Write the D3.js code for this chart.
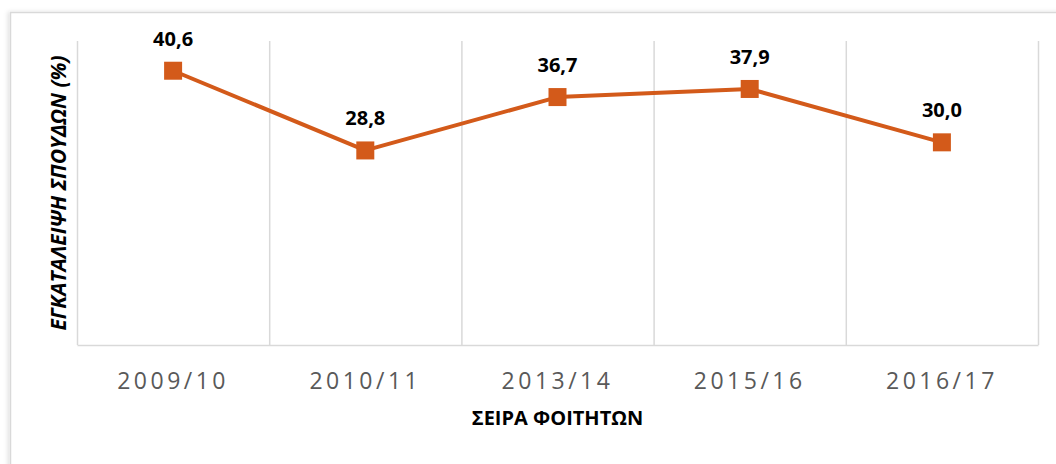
<!DOCTYPE html>
<html>
<head>
<meta charset="utf-8">
<script src="https://cdn.jsdelivr.net/npm/d3@7"></script>
<style>
  body { margin: 0; background: #fff; }
  svg { display: block; }
</style>
</head>
<body>
<svg id="chart"></svg>
<script>
const periods = ["2009/10", "2010/11", "2013/14", "2015/16", "2016/17"];
const dropout = [40.6, 28.8, 36.7, 37.9, 30.0];
const yTitle = "ΕΓΚΑΤΑΛΕΙΨΗ ΣΠΟΥΔΩΝ (%)";
const xTitle = "ΣΕΙΡΑ ΦΟΙΤΗΤΩΝ";

const W = 1056, H = 464;
const margin = { top: 41, right: 18, bottom: 119, left: 77 };
const width = W - margin.left - margin.right;
const height = H - margin.top - margin.bottom;
const orange = "#D35A1A";

const root = d3.select("#chart").attr("width", W).attr("height", H);

// chart frame with soft shadow
const defs = root.append("defs");
const f = defs.append("filter").attr("id", "sh").attr("x", "-5%").attr("y", "-5%").attr("width", "110%").attr("height", "110%");
f.append("feDropShadow").attr("dx", -2).attr("dy", 0).attr("stdDeviation", 2).attr("flood-color", "#000").attr("flood-opacity", 0.12);
root.append("rect")
    .attr("x", 10.5).attr("y", 12.5)
    .attr("width", W + 20).attr("height", H + 20)
    .attr("fill", "#fff").attr("stroke", "#d9d9d9").attr("stroke-width", 1.5)
    .attr("filter", "url(#sh)");

const svg = root.append("g").attr("transform", `translate(${margin.left},${margin.top})`);

const x = d3.scaleBand().domain(periods).range([0, width]);
const y = d3.scaleLinear().domain([0, 45]).range([height, 0]);

// vertical gridlines at category boundaries
const bounds = periods.map(p => x(p)).concat([width]);
svg.selectAll(".grid")
    .data(bounds)
    .enter()
    .append("line")
    .attr("x1", d => d + 0.5).attr("x2", d => d + 0.5)
    .attr("y1", 0).attr("y2", height)
    .attr("stroke", "#d9d9d9").attr("stroke-width", 1.5);

// x axis
const xAxis = svg.append("g")
    .attr("transform", `translate(0,${height})`)
    .call(d3.axisBottom(x).tickSize(0).tickPadding(28));
xAxis.select(".domain").attr("stroke", "#d9d9d9").attr("stroke-width", 1.5);
xAxis.selectAll("text")
    .attr("fill", "#595959")
    .style("font-family", "'Open Sans', sans-serif")
    .style("font-size", "23px")
    .style("letter-spacing", "3.5px");

const data = periods.map((p, i) => ({ p, v: dropout[i] }));

const line = d3.line()
    .x(d => x(d.p) + x.bandwidth() / 2)
    .y(d => y(d.v));

svg.append("path")
    .datum(data)
    .attr("fill", "none")
    .attr("stroke", orange)
    .attr("stroke-width", 4)
    .attr("stroke-linejoin", "round")
    .attr("d", line);

svg.selectAll(".pt")
    .data(data)
    .enter()
    .append("rect")
    .attr("x", d => x(d.p) + x.bandwidth() / 2 - 9)
    .attr("y", d => y(d.v) - 9)
    .attr("width", 18).attr("height", 18)
    .attr("fill", orange);

svg.selectAll(".lbl")
    .data(data)
    .enter()
    .append("text")
    .attr("x", d => x(d.p) + x.bandwidth() / 2)
    .attr("y", d => y(d.v) - 25)
    .attr("text-anchor", "middle")
    .style("font-family", "'Open Sans', sans-serif")
    .style("font-weight", "bold")
    .style("font-size", "20px")
    .attr("fill", "#000")
    .text(d => d.v.toFixed(1).replace(".", ","));

// axis titles
svg.append("text")
    .attr("x", width / 2)
    .attr("y", height + 80)
    .attr("text-anchor", "middle")
    .style("font-family", "'Open Sans', sans-serif")
    .style("font-weight", "bold")
    .style("font-size", "20px")
    .text(xTitle);

svg.append("text")
    .attr("transform", `translate(-11,${height / 2}) rotate(-90)`)
    .attr("text-anchor", "middle")
    .style("font-family", "'Open Sans', sans-serif")
    .style("font-weight", "bold")
    .style("font-style", "italic")
    .style("font-size", "21px")
    .text(yTitle);
</script>
</body>
</html>
